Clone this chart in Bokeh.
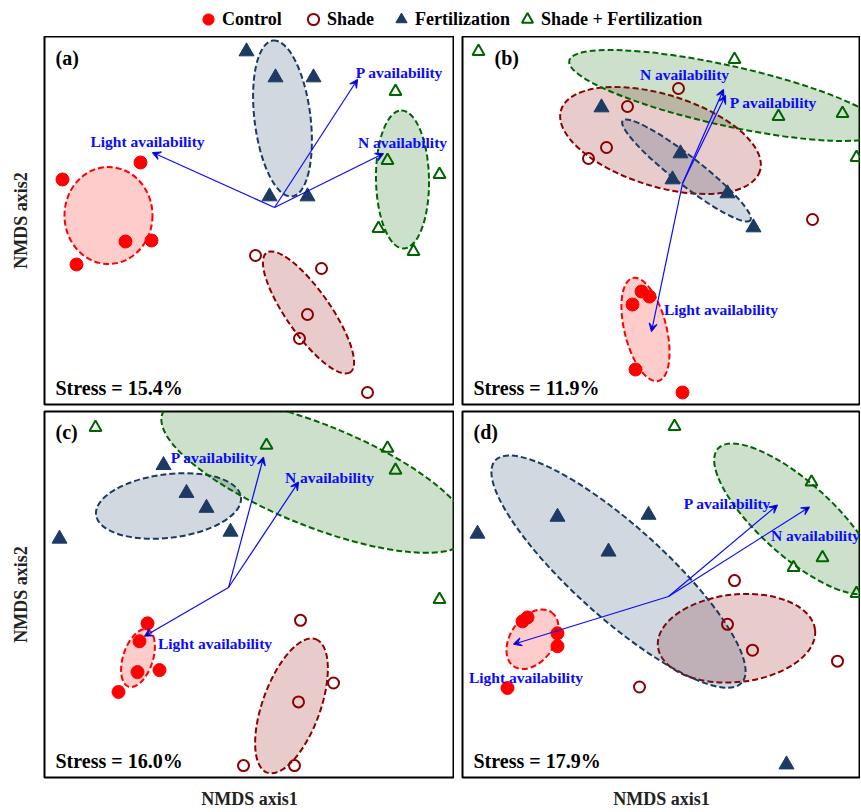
from bokeh.plotting import figure
from bokeh.layouts import column, row
from bokeh.models import (ColumnDataSource, Legend, LegendItem, Label, Arrow,
                          VeeHead, Range1d, FixedTicker)
from bokeh.core.properties import value
from bokeh.embed import file_html
from bokeh.resources import INLINE

GROUPS = ["Control", "Shade", "Fertilization", "Shade + Fertilization"]
VECTORS = ["Light availability", "P availability", "N availability"]
PANELS = ["(a)", "(b)", "(c)", "(d)"]
STRESS = ["15.4", "11.9", "16.0", "17.9"]

# ---------------- panel (a) ----------------
a_control_x = [-1.87, -1.09, -1.24, -0.98, -1.73]
a_control_y = [0.41, 0.58, -0.21, -0.20, -0.44]
a_shade_x = [0.06, 0.72, 0.58, 0.50, 1.18]
a_shade_y = [-0.35, -0.48, -0.94, -1.18, -1.72]
a_fert_x = [-0.03, 0.26, 0.64, 0.20, 0.58]
a_fert_y = [1.69, 1.43, 1.43, 0.24, 0.24]
a_sf_x = [1.46, 1.38, 1.90, 1.29, 1.64]
a_sf_y = [1.29, 0.60, 0.46, -0.08, -0.31]
a_ell_x = [-1.41, 0.59, 0.33, 1.53]
a_ell_y = [0.05, -0.92, 1.02, 0.41]
a_ell_w = [0.88, 1.46, 1.57, 1.38]
a_ell_h = [0.97, 0.44, 0.56, 0.53]
a_ell_deg = [0, -55, 97, 91]
a_vec_origin = [0.25, 0.13]
a_vec_x = [-0.97, 1.08, 1.34]
a_vec_y = [0.68, 1.41, 0.67]
a_vlab_x = [-1.02, 1.50, 1.53]
a_vlab_y = [0.79, 1.48, 0.78]

# ---------------- panel (b) ----------------
b_control_x = [-0.26, -0.18, -0.35, -0.32, 0.15]
b_control_y = [-0.71, -0.76, -0.84, -1.49, -1.72]
b_shade_x = [0.11, -0.40, -0.61, -0.79, 1.45]
b_shade_y = [1.32, 1.14, 0.73, 0.62, 0.01]
b_fert_x = [-0.66, 0.13, 0.05, 0.60, 0.86]
b_fert_y = [1.13, 0.67, 0.41, 0.27, -0.07]
b_sf_x = [-1.89, 0.67, 1.11, 1.75, 1.89]
b_sf_y = [1.69, 1.61, 1.04, 1.07, 0.63]
b_ell_x = [-0.22, -0.07, 0.19, 0.59]
b_ell_y = [-1.09, 0.80, 0.50, 1.25]
b_ell_w = [1.06, 2.08, 1.62, 3.22]
b_ell_h = [0.42, 0.92, 0.28, 0.60]
b_ell_deg = [104, -17, -38, -12.5]
b_vec_origin = [0.15, 0.37]
b_vec_x = [-0.16, 0.58, 0.56]
b_vec_y = [-1.11, 1.25, 1.31]
b_vlab_x = [0.535, 1.06, 0.17]
b_vlab_y = [-0.89, 1.18, 1.46]

# ---------------- panel (c) ----------------
c_control_x = [-1.02, -1.10, -1.12, -0.90, -1.31]
c_control_y = [-0.29, -0.47, -0.78, -0.76, -0.98]
c_shade_x = [0.51, 0.84, 0.49, -0.06, 0.45]
c_shade_y = [-0.26, -0.89, -1.08, -1.72, -1.72]
c_fert_x = [-0.86, -0.63, -0.43, -0.19, -1.90]
c_fert_y = [1.30, 1.02, 0.87, 0.63, 0.56]
c_sf_x = [-1.54, 0.17, 1.38, 1.46, 1.90]
c_sf_y = [1.68, 1.50, 1.47, 1.25, -0.05]
c_ell_x = [-1.115, 0.42, -0.81, 0.66]
c_ell_y = [-0.64, -1.12, 0.89, 1.20]
c_ell_w = [0.60, 1.42, 1.46, 3.30]
c_ell_h = [0.30, 0.58, 0.64, 1.02]
c_ell_deg = [72, 70, 7, -22]
c_vec_origin = [-0.21, 0.07]
c_vec_x = [-1.05, 0.14, 0.49]
c_vec_y = [-0.42, 1.38, 1.13]
c_vlab_x = [-0.345, -0.35, 0.80]
c_vlab_y = [-0.49, 1.38, 1.18]

# ---------------- panel (d) ----------------
d_control_x = [-1.45, -1.40, -1.10, -1.10, -1.60]
d_control_y = [-0.27, -0.23, -0.39, -0.52, -0.94]
d_shade_x = [0.67, 0.60, 0.85, 1.70, -0.28]
d_shade_y = [0.14, -0.30, -0.56, -0.67, -0.93]
d_fert_x = [-1.10, -0.19, -0.59, -1.90, 1.19]
d_fert_y = [0.78, 0.80, 0.43, 0.61, -1.71]
d_sf_x = [0.07, 1.44, 1.55, 1.26, 1.89]
d_sf_y = [1.69, 1.13, 0.37, 0.27, 0.01]
d_ell_x = [-1.35, 0.69, -0.49, 1.285]
d_ell_y = [-0.45, -0.44, 0.23, 0.76]
d_ell_w = [0.66, 1.58, 3.32, 2.10]
d_ell_h = [0.44, 0.88, 0.92, 0.74]
d_ell_deg = [55, 6, -42, -42]
d_vec_origin = [0.01, -0.02]
d_vec_x = [-1.54, 1.10, 1.42]
d_vec_y = [-0.50, 0.90, 0.88]
d_vlab_x = [-1.415, 0.60, 1.48]
d_vlab_y = [-0.83, 0.92, 0.59]

# ---------------- styling ----------------
COLORS = ["#ff0000", "#8b0000", "#1c3a63", "#006400"]
FONT = "Liberation Serif"
ARROW_COLOR = "#0a0aff"


def style_axes(p):
    for ax in p.axis:
        ax.ticker = FixedTicker(ticks=[])
        ax.axis_line_color = None
        ax.major_tick_line_color = None
        ax.minor_tick_line_color = None
        ax.major_label_text_font_size = "0px"
        ax.major_label_standoff = 0
        ax.major_tick_out = 0
        ax.major_tick_in = 0
        ax.axis_label_text_font = FONT
        ax.axis_label_text_font_style = "bold"
        ax.axis_label_text_font_size = "18px"
        ax.axis_label_text_color = "#222222"


def make_panel(tag, stress, pts, ell, origin, vx, vy, lx, ly, xr, yr,
               width, height, borders, left_axis, bottom_axis, tag_x):
    p = figure(width=width, height=height,
               x_range=Range1d(*xr), y_range=Range1d(*yr),
               output_backend="svg", toolbar_location=None,
               x_axis_location="below" if bottom_axis else None,
               y_axis_location="left" if left_axis else None,
               min_border=0,
               min_border_left=borders[0], min_border_right=borders[1],
               min_border_top=borders[2], min_border_bottom=borders[3])
    p.grid.visible = False
    p.outline_line_color = "black"
    p.outline_line_width = 2
    p.background_fill_color = "white"
    p.border_fill_color = "white"
    if left_axis:
        p.yaxis.axis_label = "NMDS axis2"
    if bottom_axis:
        p.xaxis.axis_label = "NMDS axis1"
    style_axes(p)
    if left_axis:
        p.yaxis.axis_label_standoff = 14
    if bottom_axis:
        p.xaxis.axis_label_standoff = 11

    ex, ey, ew, eh, ed = ell
    esrc = ColumnDataSource(dict(x=ex, y=ey, w=ew, h=eh, a=ed, c=COLORS))
    p.ellipse(x="x", y="y", width="w", height="h", angle="a",
              angle_units="deg", source=esrc, fill_color="c",
              fill_alpha=0.2, line_color="c", line_width=2,
              line_dash="6 3")

    (cx, cy), (sx, sy), (fx, fy), (gx, gy) = pts
    p.scatter(cx, cy, marker="circle", size=13, fill_color=COLORS[0],
              line_color=COLORS[0])
    p.scatter(sx, sy, marker="circle", size=11, fill_color=None,
              line_color=COLORS[1], line_width=2)
    p.scatter(fx, fy, marker="triangle", size=15, fill_color=COLORS[2],
              line_color=COLORS[2])
    p.scatter(gx, gy, marker="triangle", size=12, fill_color=None,
              line_color=COLORS[3], line_width=2)

    asrc = ColumnDataSource(dict(x0=[origin[0]] * len(vx),
                                 y0=[origin[1]] * len(vx), x1=vx, y1=vy))
    p.add_layout(Arrow(end=VeeHead(size=8, line_color=ARROW_COLOR,
                                   line_width=1.2),
                       x_start="x0", y_start="y0", x_end="x1", y_end="y1",
                       source=asrc, line_color=ARROW_COLOR, line_width=1.2))
    p.text(x=lx, y=ly, text=VECTORS, text_font=value(FONT),
           text_font_style="bold", text_font_size="15.5px",
           text_color=ARROW_COLOR, text_align="center",
           text_baseline="middle")

    p.add_layout(Label(x=tag_x, y=1.63, text=tag, text_font=FONT,
                       text_font_style="bold", text_font_size="20px",
                       text_color="black", text_align="left",
                       text_baseline="middle"))
    p.add_layout(Label(x=-1.94, y=-1.67, text="Stress = %s%%" % stress,
                       text_font=FONT, text_font_style="bold",
                       text_font_size="20px", text_color="black",
                       text_align="left", text_baseline="middle"))
    return p


XR_L = (-2.05, 2.05)
XR_R = (-2.05, 1.93)
YR = (-1.84, 1.84)

pa = make_panel(PANELS[0], STRESS[0],
                [(a_control_x, a_control_y), (a_shade_x, a_shade_y),
                 (a_fert_x, a_fert_y), (a_sf_x, a_sf_y)],
                (a_ell_x, a_ell_y, a_ell_w, a_ell_h, a_ell_deg),
                a_vec_origin, a_vec_x, a_vec_y, a_vlab_x, a_vlab_y,
                XR_L, YR, 454, 372, (44, 0, 0, 4), True, False, -1.94)
pb = make_panel(PANELS[1], STRESS[1],
                [(b_control_x, b_control_y), (b_shade_x, b_shade_y),
                 (b_fert_x, b_fert_y), (b_sf_x, b_sf_y)],
                (b_ell_x, b_ell_y, b_ell_w, b_ell_h, b_ell_deg),
                b_vec_origin, b_vec_x, b_vec_y, b_vlab_x, b_vlab_y,
                XR_R, YR, 406, 372, (8, 0, 0, 4), False, False, -1.73)
pc = make_panel(PANELS[2], STRESS[2],
                [(c_control_x, c_control_y), (c_shade_x, c_shade_y),
                 (c_fert_x, c_fert_y), (c_sf_x, c_sf_y)],
                (c_ell_x, c_ell_y, c_ell_w, c_ell_h, c_ell_deg),
                c_vec_origin, c_vec_x, c_vec_y, c_vlab_x, c_vlab_y,
                XR_L, YR, 454, 403, (44, 0, 3, 32), True, True, -1.94)
pd = make_panel(PANELS[3], STRESS[3],
                [(d_control_x, d_control_y), (d_shade_x, d_shade_y),
                 (d_fert_x, d_fert_y), (d_sf_x, d_sf_y)],
                (d_ell_x, d_ell_y, d_ell_w, d_ell_h, d_ell_deg),
                d_vec_origin, d_vec_x, d_vec_y, d_vlab_x, d_vlab_y,
                XR_R, YR, 406, 403, (8, 0, 3, 32), False, True, -1.94)

# ---------------- legend strip ----------------
NAN = float("nan")
lg = figure(width=860, height=36, x_range=Range1d(0, 1), y_range=Range1d(0, 1),
            output_backend="svg", toolbar_location=None,
            x_axis_location=None, y_axis_location=None, min_border=0)
lg.grid.visible = False
lg.outline_line_color = None
lg.border_fill_color = "white"
r0 = lg.scatter(x=[NAN], y=[NAN], marker="circle", fill_color=COLORS[0],
                line_color=COLORS[0])
r1 = lg.scatter(x=[NAN], y=[NAN], marker="circle", fill_color=None,
                line_color=COLORS[1], line_width=2)
r2 = lg.scatter(x=[NAN], y=[NAN], marker="triangle", fill_color=COLORS[2],
                line_color=COLORS[2])
r3 = lg.scatter(x=[NAN], y=[NAN], marker="triangle", fill_color=None,
                line_color=COLORS[3], line_width=2)
for lab, r, xpos in zip(GROUPS, [r0, r1, r2, r3], [194, 299, 387, 513]):
    leg = Legend(items=[LegendItem(label=lab, renderers=[r])],
                 location=(xpos, 2), orientation="horizontal",
                 glyph_width=28, glyph_height=30, label_standoff=0,
                 padding=0, margin=0, border_line_color=None,
                 background_fill_alpha=0, label_text_font=FONT,
                 label_text_font_style="bold", label_text_font_size="18px",
                 label_text_color="black")
    lg.add_layout(leg)

layout = column(lg, row(pa, pb), row(pc, pd))
open("out.html", "w").write(file_html(layout, INLINE))
